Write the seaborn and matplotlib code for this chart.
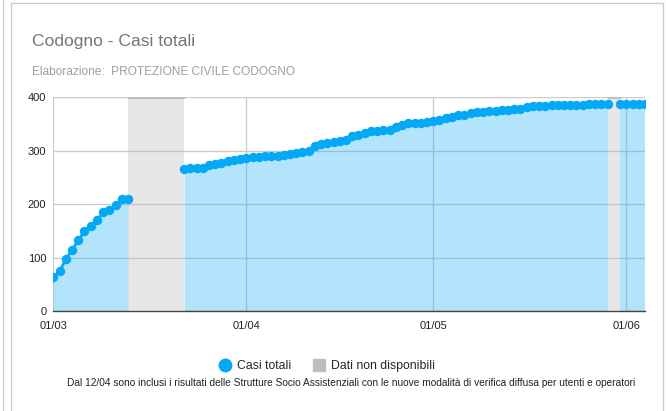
import pandas as pd
import matplotlib.pyplot as plt
from matplotlib.lines import Line2D
from matplotlib.patches import Rectangle
import seaborn as sns

# casi totali, giorno per giorno
casi_1_13_marzo = [63, 74, 97, 114, 132, 149, 159, 170, 185, 189, 198, 209, 209]
casi_22_03_29_05 = [
    266, 267, 267, 268, 274, 276, 277, 281, 283, 285,            # 22/03 - 31/03
    287, 288, 289, 290, 291, 291, 292, 293, 295, 297,            # 01/04 - 10/04
    299, 309, 312, 314, 317, 319, 321, 327, 330, 334,            # 11/04 - 20/04
    336, 337, 338, 339, 344, 349, 351, 351, 352, 353,            # 21/04 - 30/04
    356, 358, 361, 364, 366, 367, 370, 372, 373, 374,            # 01/05 - 10/05
    375, 376, 377, 378, 379, 381, 383, 384, 384, 385,            # 11/05 - 20/05
    385, 385, 386, 386, 386, 387, 387, 387, 388,                 # 21/05 - 29/05
]
casi_31_05_04_06 = [388, 388, 388, 388, 388]
inizio_segmenti = ["2020-03-01", "2020-03-22", "2020-05-31"]

# periodi senza dati
periodi_nd = [("2020-03-13", "2020-03-22"), ("2020-05-29", "2020-05-31")]
valore_nd = 400

y_ticks = [0, 100, 200, 300, 400]
x_ticks = ["2020-03-01", "2020-04-01", "2020-05-01", "2020-06-01"]
x_labels = ["01/03", "01/04", "01/05", "01/06"]

blu = "#03a9f4"
grigio = "#bdbdbd"

sns.set_style("white")
plt.rcParams['font.family'] = ['Liberation Sans', 'DejaVu Sans']

fig = plt.figure(figsize=(6.66, 4.11), dpi=100)
ax = fig.add_axes([53.3 / 666, 1 - 311 / 411, (645 - 53.3) / 666, (311 - 97.3) / 411])

segmenti = [casi_1_13_marzo, casi_22_03_29_05, casi_31_05_04_06]
for inizio, valori in zip(inizio_segmenti, segmenti):
    df = pd.DataFrame({"data": pd.date_range(inizio, periods=len(valori), freq="D"),
                       "casi": valori})
    ax.fill_between(df["data"], 0, df["casi"], color=blu, alpha=0.3, lw=0, zorder=2)
    sns.lineplot(data=df, x="data", y="casi", ax=ax, color=blu, lw=2,
                 marker="o", markersize=6.8, markeredgewidth=0, zorder=4)

for a, b in periodi_nd:
    d = pd.to_datetime([a, b])
    ax.fill_between(d, 0, [valore_nd, valore_nd], color=grigio, alpha=0.35, lw=0, zorder=3)
    ax.plot(d, [valore_nd, valore_nd], color=grigio, lw=2, zorder=3)

ax.set_xlim(pd.Timestamp("2020-03-01"), pd.Timestamp("2020-06-04"))
ax.set_ylim(0, 400)
ax.set_yticks(y_ticks)
ax.set_xticks(pd.to_datetime(x_ticks))
ax.set_xticklabels(x_labels)
ax.grid(True, color="#cccccc", lw=1, zorder=1)
ax.set_axisbelow(True)
ax.tick_params(axis="both", length=0, labelsize=8, colors="#222222")
ax.tick_params(axis="y", pad=5)
ax.tick_params(axis="x", pad=7)
ax.set_xlabel("")
ax.set_ylabel("")
for side in ["top", "right", "left"]:
    ax.spines[side].set_visible(False)
ax.spines["bottom"].set_color("#444444")
ax.spines["bottom"].set_linewidth(1)

# titolo e sottotitolo
fig.text(32 / 666, 1 - 46 / 411, "Codogno - Casi totali", fontsize=12.6, color="#757575",
         va="baseline", ha="left")
fig.text(32 / 666, 1 - 75 / 411, "Elaborazione:  PROTEZIONE CIVILE CODOGNO", fontsize=8.6,
         color="#9e9e9e", va="baseline", ha="left")

# legenda
handles = [Line2D([], [], ls="none", marker="o", markersize=9, color=blu),
           Line2D([], [], ls="none", marker="s", markersize=9, color=grigio)]
fig.legend(handles, ["Casi totali", "Dati non disponibili"], loc="center",
           bbox_to_anchor=(327 / 666, 1 - 366 / 411), ncol=2, frameon=False,
           fontsize=8.8, handletextpad=0.5, columnspacing=1.8, handlelength=1)

fig.text(351 / 666, 1 - 383 / 411,
         "Dal 12/04 sono inclusi i risultati delle Strutture Socio Assistenziali con le nuove "
         "modalità di verifica diffusa per utenti e operatori",
         fontsize=7.25, color="#222222", ha="center", va="center")

# bordi della scheda
fig.add_artist(Line2D([3 / 666, 3 / 666], [0, 1], color="#cccccc", lw=1))
fig.add_artist(Rectangle((11 / 666, -0.05), (663 - 11) / 666, 1.05 - 3 / 411,
                         fill=False, edgecolor="#cccccc", lw=1))

fig.savefig("out.png", dpi=100)
